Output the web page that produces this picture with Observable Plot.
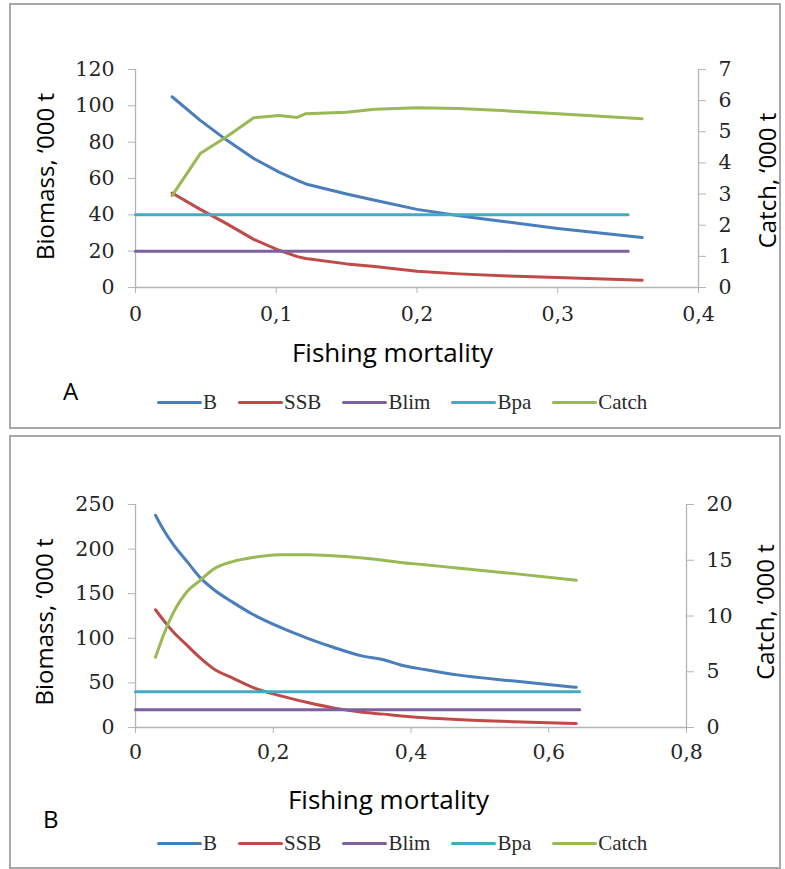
<!DOCTYPE html>
<html>
<head>
<meta charset="utf-8">
<script src="https://cdn.jsdelivr.net/npm/d3@7"></script>
<script src="https://cdn.jsdelivr.net/npm/@observablehq/plot@0.6"></script>
<style>
  body { margin: 0; background: #fff; width: 785px; height: 869px; position: relative; overflow: hidden; }
  .box { position: absolute; left: 9px; width: 772px; box-sizing: border-box; border: 2px solid #a8a8a8; background: #fff; }
  .svgwrap { position: absolute; left: 0; top: 0; }
  .tag { position: absolute; font-family: "Open Sans", sans-serif; font-size: 24px; color: #000; line-height: 1; }
  .legend { position: absolute; display: flex; align-items: center; font-family: "Liberation Serif", serif; font-size: 21px; color: #2a2a2a; line-height: 1; }
  .legend .item { display: flex; align-items: center; margin-right: 21px; }
  .legend .sw { width: 45px; height: 3.5px; border-radius: 2px; margin-right: 1px; }
</style>
</head>
<body>
<div id="boxA" class="box" style="top:3px;height:426px;"></div>
<div id="boxB" class="box" style="top:435px;height:434px;"></div>
<script>
// ---------- Data: panel A ----------
const fA      = [0.026, 0.046, 0.065, 0.084, 0.102, 0.115, 0.121, 0.15, 0.17, 0.2, 0.23, 0.26, 0.3, 0.36];
const bA      = [105, 92, 81, 71, 63.5, 59, 57, 51.5, 48, 43, 39.5, 36.5, 32.5, 27.5];
const ssbA    = [52, 43, 35, 26.5, 20.5, 17, 16, 13, 11.5, 9, 7.5, 6.5, 5.5, 4];
const catchA  = [2.95, 4.3, 4.85, 5.45, 5.52, 5.46, 5.58, 5.63, 5.72, 5.77, 5.75, 5.68, 5.58, 5.42];
const refFA   = [0, 0.35];
const blimA   = [20, 20];
const bpaA    = [40, 40];
const fTicksA       = [0, 0.1, 0.2, 0.3, 0.4];
const biomassTicksA = [0, 20, 40, 60, 80, 100, 120];
const catchTicksA   = [0, 1, 2, 3, 4, 5, 6, 7];

// ---------- Data: panel B ----------
const fB      = [0.029, 0.042, 0.055, 0.075, 0.094, 0.113, 0.142, 0.17, 0.208, 0.25, 0.287, 0.33, 0.36, 0.385, 0.42, 0.467, 0.55, 0.64];
const bB      = [238, 220, 205, 186, 168, 155, 140, 127, 113, 100, 90, 80, 76, 70, 65, 59, 52, 45];
const ssbB    = [132, 119, 107, 92, 78, 66, 55, 45, 36, 28, 22, 17, 15, 13, 11, 9, 6.5, 4.5];
const catchB  = [6.3, 8.5, 10.3, 12.2, 13.2, 14.2, 14.9, 15.25, 15.5, 15.5, 15.4, 15.2, 15.0, 14.8, 14.6, 14.3, 13.8, 13.2];
const refFB   = [0, 0.645];
const blimB   = [20, 20];
const bpaB    = [40, 40];
const fTicksB       = [0, 0.2, 0.4, 0.6, 0.8];
const biomassTicksB = [0, 50, 100, 150, 200, 250];
const catchTicksB   = [0, 5, 10, 15, 20];

// ---------- Legend ----------
const seriesNames  = ["B", "SSB", "Blim", "Bpa", "Catch"];
const seriesColors = ["#4a7ebb", "#be4b48", "#7d60a0", "#46aac5", "#98b954"];

const axisColor = "#b4b4b4";
const textColor = "#262626";
const tickFont = "DejaVu Serif";
const titleFont = "Open Sans";

const fmtF = d => d === 0 ? "0" : String(d).replace(".", ",");

function makePanel(cfg) {
  const k = cfg.yMax / cfg.catchMax;
  const pairs = (xs, ys, scale = 1) => xs.map((x, i) => [x, ys[i] * scale]);
  const curve = cfg.curve;
  const lineOpts = (c) => ({stroke: c, strokeWidth: 3, strokeLinecap: "round", strokeLinejoin: "round", curve});
  return Plot.plot({
    width: cfg.width,
    height: cfg.height,
    marginLeft: cfg.ml, marginRight: cfg.mr, marginTop: cfg.mt, marginBottom: cfg.mb,
    style: {fontFamily: tickFont, fontSize: "20px", background: "white", overflow: "visible"},
    x: {domain: [0, cfg.xMax]},
    y: {domain: [0, cfg.yMax]},
    marks: [
      Plot.ruleX([0], {stroke: axisColor, strokeWidth: 1.3}),
      Plot.ruleX([cfg.xMax], {stroke: axisColor, strokeWidth: 1.3}),
      Plot.ruleY([0], {stroke: axisColor, strokeWidth: 1.3}),
      Plot.axisX(cfg.fTicks, {tickSize: 6, tickPadding: cfg.xPad, tickFormat: fmtF, stroke: axisColor, fill: textColor, fontSize: 20.5, fontFamily: tickFont, label: null}),
      Plot.axisY(cfg.bTicks, {anchor: "left", tickSize: 7, tickPadding: 14, stroke: axisColor, fill: textColor, fontSize: 20.5, fontFamily: tickFont, label: null}),
      Plot.axisY(cfg.cTicks.map(v => v * k), {anchor: "right", tickSize: 7, tickPadding: 13, tickFormat: d => String(Math.round(d / k)), stroke: axisColor, fill: textColor, fontSize: 20.5, fontFamily: tickFont, label: null}),
      Plot.line(pairs(cfg.f, cfg.b), lineOpts(seriesColors[0])),
      Plot.line(pairs(cfg.f, cfg.ssb), lineOpts(seriesColors[1])),
      Plot.line(pairs(cfg.refF, cfg.blim), lineOpts(seriesColors[2])),
      Plot.line(pairs(cfg.refF, cfg.bpa), lineOpts(seriesColors[3])),
      Plot.line(pairs(cfg.f, cfg.catch, k), lineOpts(seriesColors[4])),
      Plot.text(["Fishing mortality"], {frameAnchor: "bottom-left", dx: cfg.xlDx, dy: cfg.xlDy, textAnchor: "middle", fontFamily: titleFont, fontSize: 26, fill: "#000"}),
      Plot.text(["Biomass, \u2018000 t"], {frameAnchor: "left", dx: cfg.ylDx, dy: cfg.ylDy, rotate: -90, textAnchor: "middle", fontFamily: titleFont, fontSize: 24, fill: "#000"}),
      Plot.text(["Catch, \u2018000 t"], {frameAnchor: "right", dx: cfg.yrDx, dy: cfg.yrDy, rotate: -90, textAnchor: "middle", fontFamily: titleFont, fontSize: 24, fill: "#000"})
    ]
  });
}

function addPanel(boxId, cfg, tag, tagPos, legendTop) {
  const box = document.getElementById(boxId);
  const wrap = document.createElement("div");
  wrap.className = "svgwrap";
  wrap.appendChild(makePanel(cfg));
  box.appendChild(wrap);
  const t = document.createElement("div");
  t.className = "tag";
  t.textContent = tag;
  t.style.left = tagPos[0] + "px";
  t.style.top = tagPos[1] + "px";
  box.appendChild(t);
  const lg = document.createElement("div");
  lg.className = "legend";
  lg.style.left = (157 - 11) + "px";
  lg.style.top = legendTop + "px";
  seriesNames.forEach((n, i) => {
    const it = document.createElement("div");
    it.className = "item";
    const sw = document.createElement("span");
    sw.className = "sw";
    sw.style.background = seriesColors[i];
    const tx = document.createElement("span");
    tx.textContent = n;
    it.appendChild(sw); it.appendChild(tx);
    lg.appendChild(it);
  });
  box.appendChild(lg);
}

// Panel A: page frame x 135..698, y 69..287 ; box inner origin (11,5)
addPanel("boxA", {
  width: 768, height: 372, ml: 124, mr: 81, mt: 64, mb: 372 - 282,
  xMax: 0.4, yMax: 120, catchMax: 7,
  f: fA, b: bA, ssb: ssbA, catch: catchA, refF: refFA, blim: blimA, bpa: bpaA,
  fTicks: fTicksA, bTicks: biomassTicksA, cTicks: catchTicksA,
  xPad: 13, xlDx: 257, xlDy: 74, ylDx: -89, ylDy: -2, yrDx: 70, yrDy: 2,
  curve: "linear"
}, "A", [52, 374], 387);

// Panel B: page frame x 135..686, y 504..727 ; box inner origin (11,437)
addPanel("boxB", {
  width: 768, height: 384, ml: 124, mr: 93, mt: 67, mb: 384 - 290,
  xMax: 0.8, yMax: 250, catchMax: 20,
  f: fB, b: bB, ssb: ssbB, catch: catchB, refF: refFB, blim: blimB, bpa: bpaB,
  fTicks: fTicksB, bTicks: biomassTicksB, cTicks: catchTicksB,
  xPad: 11, xlDx: 253, xlDy: 81, ylDx: -90, ylDy: 6, yrDx: 80, yrDy: -4,
  curve: "monotone-x"
}, "B", [32, 370], 396);
</script>
</body>
</html>
